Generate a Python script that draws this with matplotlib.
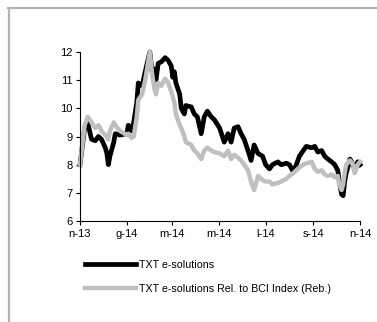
import pandas as pd
import matplotlib
matplotlib.use("Agg")
import matplotlib.pyplot as plt
from matplotlib.lines import Line2D

plt.rcParams['font.family'] = ['Liberation Sans', 'DejaVu Sans']

# dates and values
dates = ["2013-11-01", "2013-11-07", "2013-11-11", "2013-11-16", "2013-11-21", "2013-11-25",
         "2013-11-29", "2013-12-04", "2013-12-06", "2013-12-08", "2013-12-10", "2013-12-15",
         "2013-12-17", "2013-12-23", "2014-01-01", "2014-01-03", "2014-01-07", "2014-01-10",
         "2014-01-14", "2014-01-16", "2014-01-21", "2014-01-25", "2014-01-31", "2014-02-03",
         "2014-02-06", "2014-02-08", "2014-02-11", "2014-02-15", "2014-02-20", "2014-02-24",
         "2014-02-28", "2014-03-02", "2014-03-04", "2014-03-06", "2014-03-11", "2014-03-13",
         "2014-03-17", "2014-03-19", "2014-03-26", "2014-03-30", "2014-04-03", "2014-04-08",
         "2014-04-12", "2014-04-16", "2014-04-21", "2014-04-25", "2014-05-02", "2014-05-08",
         "2014-05-13", "2014-05-17", "2014-05-21", "2014-05-26", "2014-05-30", "2014-06-03",
         "2014-06-08", "2014-06-12", "2014-06-16", "2014-06-21", "2014-06-27", "2014-07-01",
         "2014-07-06", "2014-07-10", "2014-07-17", "2014-07-21", "2014-07-28", "2014-08-01",
         "2014-08-06", "2014-08-10", "2014-08-14", "2014-08-19", "2014-08-23", "2014-08-30",
         "2014-09-03", "2014-09-07", "2014-09-12", "2014-09-16", "2014-09-20", "2014-09-25",
         "2014-09-29", "2014-10-03", "2014-10-05", "2014-10-08", "2014-10-10", "2014-10-12",
         "2014-10-14", "2014-10-19", "2014-10-23", "2014-10-25", "2014-10-29", "2014-11-01"]

txt = [8.0, 9.3, 9.5, 8.9, 8.85, 9.0,
       8.9, 8.6, 8.4, 8.0, 8.3, 8.8,
       9.1, 9.05, 9.1, 9.4, 9.2, 9.5,
       10.2, 10.9, 10.8, 11.3, 12.0, 11.3,
       11.4, 11.0, 11.6, 11.65, 11.8, 11.7,
       11.5, 11.1, 11.3, 10.9, 10.5, 10.0,
       9.8, 10.1, 10.05, 9.8, 9.7, 9.1,
       9.7, 9.9, 9.7, 9.6, 9.3, 8.8,
       9.1, 8.8, 9.3, 9.35, 9.1, 8.9,
       8.5, 8.15, 8.7, 8.4, 8.3, 8.0,
       7.85, 8.0, 8.1, 8.0, 8.05, 8.0,
       7.75, 8.0, 8.3, 8.5, 8.65, 8.6,
       8.65, 8.45, 8.5, 8.3, 8.2, 8.1,
       8.0, 7.8, 7.4, 6.95, 6.9, 7.4,
       7.7, 8.2, 8.0, 7.8, 8.1, 8.0]

rel_bci = [8.0, 9.4, 9.7, 9.5, 9.3, 9.4,
           9.2, 9.05, 9.0, 8.9, 9.2, 9.5,
           9.4, 9.2, 9.05, 9.1, 8.95, 9.0,
           9.7, 10.3, 10.5, 11.0, 12.0, 11.2,
           10.7, 10.5, 10.9, 10.8, 11.05, 10.9,
           10.6, 10.4, 10.2, 9.8, 9.4, 9.3,
           9.0, 8.8, 8.7, 8.5, 8.4, 8.2,
           8.5, 8.6, 8.5, 8.45, 8.4, 8.3,
           8.5, 8.2, 8.35, 8.25, 8.15, 8.0,
           7.8, 7.4, 7.1, 7.6, 7.45, 7.4,
           7.4, 7.3, 7.35, 7.4, 7.5, 7.6,
           7.7, 7.8, 7.9, 8.0, 8.05, 8.1,
           7.85, 7.75, 7.8, 7.65, 7.6, 7.65,
           7.55, 7.6, 7.3, 7.1, 7.3, 7.7,
           8.0, 8.15, 8.0, 7.7, 8.0, 8.1]

tick_dates = ["2013-11-01", "2014-01-01", "2014-03-01", "2014-05-01",
              "2014-07-01", "2014-09-01", "2014-11-01"]
tick_labels = ["n-13", "g-14", "m-14", "m-14", "l-14", "s-14", "n-14"]

x = pd.to_datetime(dates)

fig = plt.figure(figsize=(3.77, 3.22), dpi=100)
ax = fig.add_axes([80 / 377, 1 - 221 / 322, 280 / 377, 169 / 322])

ax.plot(x, txt, color="black", lw=3.4, label="TXT e-solutions", clip_on=False,
        solid_joinstyle="round")
ax.plot(x, rel_bci, color="#bfbfbf", lw=3.2, label="TXT e-solutions Rel. to BCI Index (Reb.)",
        clip_on=False, solid_joinstyle="round")

ax.set_ylim(6, 12)
ax.set_yticks(range(6, 13))
ax.set_xlim(pd.Timestamp(tick_dates[0]), pd.Timestamp(tick_dates[-1]))
ax.set_xticks(pd.to_datetime(tick_dates))
ax.set_xticklabels(tick_labels)

for s in ["top", "right"]:
    ax.spines[s].set_visible(False)
for s in ["left", "bottom"]:
    ax.spines[s].set_linewidth(0.8)
ax.tick_params(direction="out", length=3, width=0.8, labelsize=8, pad=2.5)

ax.legend(loc="upper left", bbox_to_anchor=(85 / 377, 1 - 260 / 322),
          bbox_transform=fig.transFigure, frameon=False, fontsize=7.7,
          handlelength=4.75, handletextpad=0.3, labelspacing=1.3, borderpad=0,
          borderaxespad=0)

# grey frame on the top and left edges
fig.add_artist(Line2D([8 / 377, 1], [1 - 8 / 322, 1 - 8 / 322], color="#b3b3b3", lw=1.6,
                      transform=fig.transFigure))
fig.add_artist(Line2D([8.5 / 377, 8.5 / 377], [0, 1 - 8 / 322], color="#b3b3b3", lw=1.6,
                      transform=fig.transFigure))

fig.savefig("out.png", dpi=100)
